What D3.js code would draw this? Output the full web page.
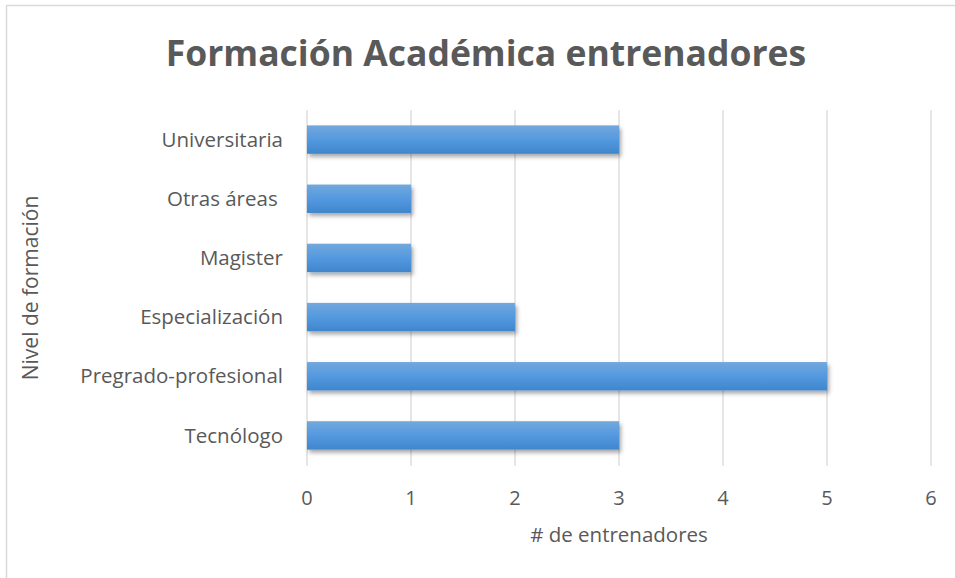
<!DOCTYPE html>
<html>
<head>
<meta charset="utf-8">
<script src="https://cdn.jsdelivr.net/npm/d3@7"></script>
<style>
	body { margin: 0; background: #fff; }
	svg { display: block; font-family: "Open Sans", "Liberation Sans", sans-serif; }
</style>
</head>
<body>
<div id="chart"></div>
<script>
// data, top to bottom as shown
var categories = ['Universitaria', 'Otras áreas ', 'Magister', 'Especialización', 'Pregrado-profesional', 'Tecnólogo'];
var values = [3, 1, 1, 2, 5, 3];
var xTicks = [0, 1, 2, 3, 4, 5, 6];

var width = 955, height = 578;
var margin = {top: 110, right: 24, bottom: 112, left: 307};

var svg = d3.select('#chart').append('svg')
	.attr('width', width)
	.attr('height', height);

var defs = svg.append('defs');
var grad = defs.append('linearGradient')
	.attr('id', 'barGrad')
	.attr('x1', 0).attr('y1', 0).attr('x2', 0).attr('y2', 1);
grad.append('stop').attr('offset', '0%').attr('stop-color', '#72a8dd');
grad.append('stop').attr('offset', '50%').attr('stop-color', '#5499df');
grad.append('stop').attr('offset', '100%').attr('stop-color', '#3f86cc');

var shadow = defs.append('filter').attr('id', 'shadow')
	.attr('x', '-5%').attr('y', '-20%').attr('width', '115%').attr('height', '160%');
shadow.append('feDropShadow')
	.attr('dx', 2).attr('dy', 3).attr('stdDeviation', 2)
	.attr('flood-color', '#000').attr('flood-opacity', 0.35);

// chart border
svg.append('rect')
	.attr('x', 6.5).attr('y', 5.5)
	.attr('width', width + 10).attr('height', height + 10)
	.attr('fill', 'none')
	.attr('stroke', '#d9d9d9')
	.attr('stroke-width', 1.5);

var x = d3.scaleLinear().domain([0, 6]).range([margin.left, 931]);
var y = d3.scaleBand().domain(categories)
	.range([margin.top, margin.top + 355])
	.paddingInner(0.52).paddingOuter(0.26);

// gridlines
svg.append('g').selectAll('line')
	.data(xTicks)
	.join('line')
		.attr('x1', function(d) { return x(d); })
		.attr('x2', function(d) { return x(d); })
		.attr('y1', margin.top)
		.attr('y2', margin.top + 356)
		.attr('stroke', '#d9d9d9')
		.attr('stroke-width', 1.3);

// bars
svg.append('g').selectAll('rect')
	.data(values)
	.join('rect')
		.attr('x', x(0))
		.attr('y', function(d, i) { return y(categories[i]); })
		.attr('width', function(d) { return x(d) - x(0); })
		.attr('height', y.bandwidth())
		.attr('fill', 'url(#barGrad)')
		.attr('filter', 'url(#shadow)');

// x tick labels
svg.append('g').selectAll('text')
	.data(xTicks)
	.join('text')
		.attr('x', function(d) { return x(d); })
		.attr('y', 505)
		.attr('text-anchor', 'middle')
		.attr('font-size', '20px')
		.attr('fill', '#595959')
		.text(function(d) { return d; });

// category labels
svg.append('g').selectAll('text')
	.data(categories)
	.join('text')
		.attr('x', 283)
		.attr('y', function(d) { return y(d) + y.bandwidth() / 2; })
		.attr('dy', '0.35em')
		.attr('text-anchor', 'end')
		.attr('font-size', '20.5px')
		.attr('fill', '#595959')
		.attr('xml:space', 'preserve')
		.text(function(d) { return d; });

// axis titles
svg.append('text')
	.attr('x', x(3))
	.attr('y', 542)
	.attr('text-anchor', 'middle')
	.attr('font-size', '20.5px')
	.attr('fill', '#595959')
	.text('# de entrenadores');

svg.append('text')
	.attr('transform', 'translate(38,' + 288 + ') rotate(-90)')
	.attr('text-anchor', 'middle')
	.attr('font-size', '21px')
	.attr('fill', '#595959')
	.text('Nivel de formación');

// title
svg.append('text')
	.attr('x', 486)
	.attr('y', 66)
	.attr('text-anchor', 'middle')
	.attr('font-size', '35.5px')
	.attr('font-weight', 'bold')
	.attr('fill', '#595959')
	.text('Formación Académica entrenadores');
</script>
</body>
</html>
